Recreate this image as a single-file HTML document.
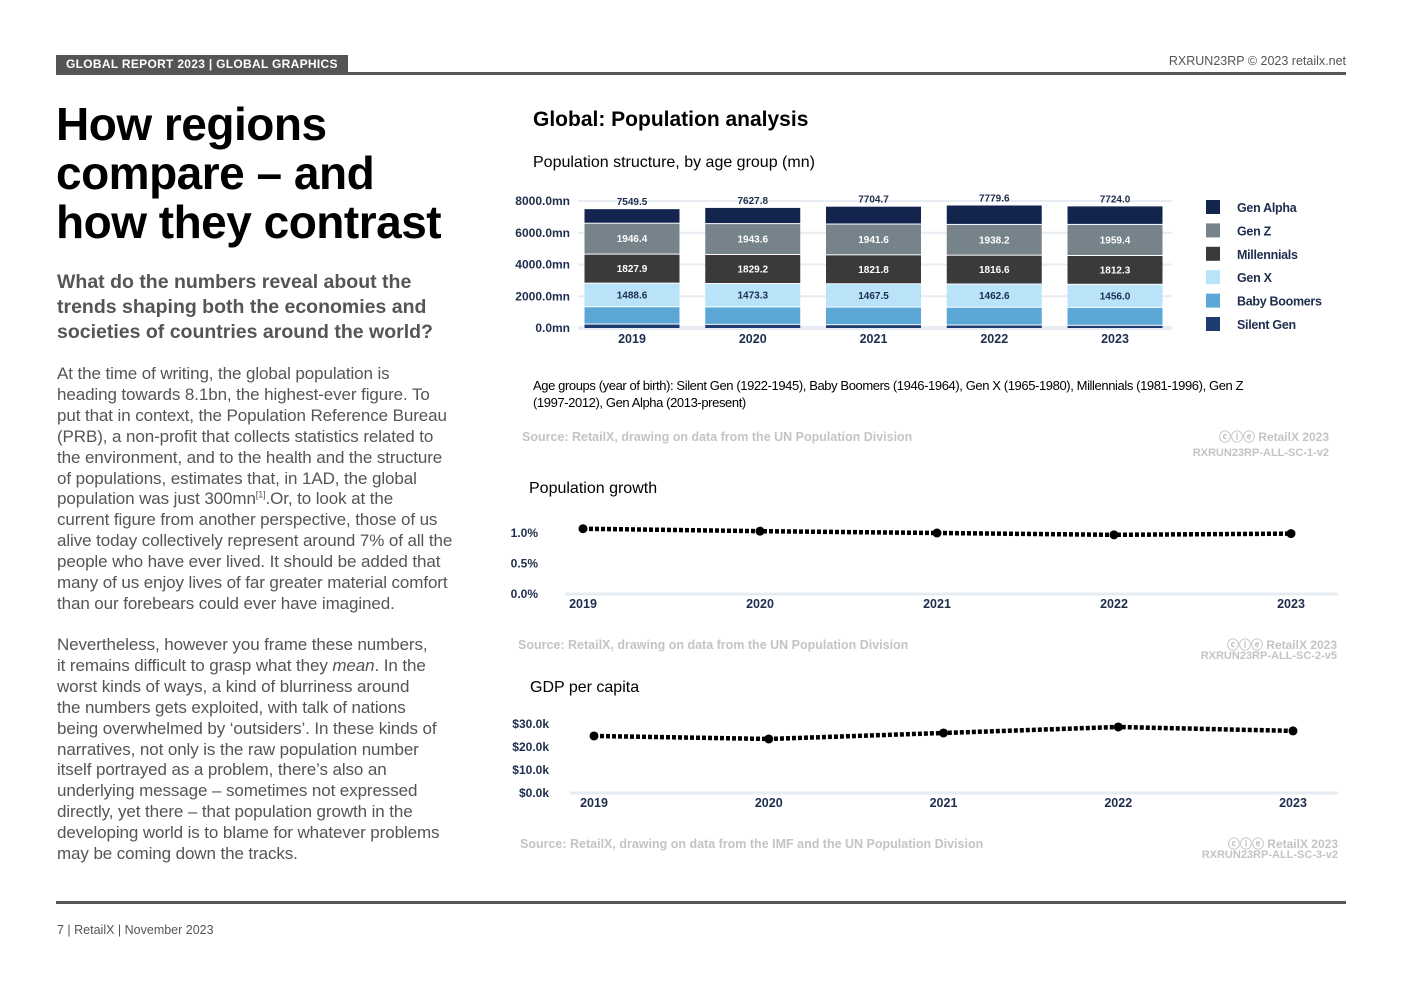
<!DOCTYPE html>
<html><head><meta charset="utf-8">
<style>
body{margin:0;width:1403px;height:992px;background:#fff;position:relative;overflow:hidden;font-family:"Liberation Sans",sans-serif;}
.abs{position:absolute;}
#hdr{left:56px;top:55px;height:18px;background:#555;color:#fff;font-weight:bold;font-size:12px;line-height:19px;padding:0 10px;letter-spacing:0.3px;}
#hline{left:56px;top:72px;width:1290px;height:3px;background:#555;}
#copy{right:57px;top:54px;font-size:12.5px;color:#555;}
h1{position:absolute;left:56px;top:100px;margin:0;font-size:46px;line-height:49px;font-weight:bold;color:#000;letter-spacing:-0.5px;}
h2{position:absolute;left:57px;top:270px;margin:0;font-size:19.5px;line-height:25px;font-weight:bold;color:#555;}
.p{position:absolute;left:57px;font-size:17px;line-height:20.9px;color:#555;letter-spacing:-0.1px;}
sup{line-height:0;font-size:9px;}
#fline{left:56px;top:901px;width:1290px;height:3px;background:#555;}
#foot{left:57px;top:923px;font-size:12.5px;color:#555;}
svg text{font-family:"Liberation Sans",sans-serif;}
</style></head><body>
<div class="abs" id="hdr">GLOBAL REPORT 2023 | GLOBAL GRAPHICS</div>
<div class="abs" id="hline"></div>
<div class="abs" id="copy">RXRUN23RP © 2023 retailx.net</div>
<h1>How regions<br>compare – and<br>how they contrast</h1>
<h2>What do the numbers reveal about the<br>trends shaping both the economies and<br>societies of countries around the world?</h2>
<div class="p" style="top:364px">At the time of writing, the global population is<br>heading towards 8.1bn, the highest-ever figure. To<br>put that in context, the Population Reference Bureau<br>(PRB), a non-profit that collects statistics related to<br>the environment, and to the health and the structure<br>of populations, estimates that, in 1AD, the global<br>population was just 300mn<sup>[1]</sup>.Or, to look at the<br>current figure from another perspective, those of us<br>alive today collectively represent around 7% of all the<br>people who have ever lived. It should be added that<br>many of us enjoy lives of far greater material comfort<br>than our forebears could ever have imagined.</div>
<div class="p" style="top:635px">Nevertheless, however you frame these numbers,<br>it remains difficult to grasp what they <i>mean</i>. In the<br>worst kinds of ways, a kind of blurriness around<br>the numbers gets exploited, with talk of nations<br>being overwhelmed by ‘outsiders’. In these kinds of<br>narratives, not only is the raw population number<br>itself portrayed as a problem, there’s also an<br>underlying message – sometimes not expressed<br>directly, yet there – that population growth in the<br>developing world is to blame for whatever problems<br>may be coming down the tracks.</div>
<div class="abs" id="fline"></div>
<div class="abs" id="foot">7 | RetailX | November 2023</div>

<svg id="charts" class="abs" style="left:0;top:0" width="1403" height="992">
<text x="533" y="126" font-size="21" font-weight="bold" fill="#000">Global: Population analysis</text>
<text x="533" y="167" font-size="16" fill="#000">Population structure, by age group (mn)</text>
<g id="bars"></g>
<text x="533" y="390" font-size="13" fill="#000" letter-spacing="-0.4">Age groups (year of birth): Silent Gen (1922-1945), Baby Boomers (1946-1964), Gen X (1965-1980), Millennials (1981-1996), Gen Z</text>
<text x="533" y="407" font-size="13" fill="#000" letter-spacing="-0.4">(1997-2012), Gen Alpha (2013-present)</text>
<text x="522" y="441" font-size="12.5" font-weight="bold" fill="#c4c4c4">Source: RetailX, drawing on data from the UN Population Division</text>
<text x="1329" y="441" font-size="12" font-weight="bold" fill="#c4c4c4" text-anchor="end">ⓒⓘⓔ  RetailX 2023</text>
<text x="1329" y="456" font-size="11" font-weight="bold" fill="#c4c4c4" text-anchor="end">RXRUN23RP-ALL-SC-1-v2</text>
<text x="529" y="493" font-size="16" fill="#000">Population growth</text>
<g id="growth"></g>
<text x="518" y="649" font-size="12.5" font-weight="bold" fill="#c4c4c4">Source: RetailX, drawing on data from the UN Population Division</text>
<text x="1337" y="649" font-size="12" font-weight="bold" fill="#c4c4c4" text-anchor="end">ⓒⓘⓔ  RetailX 2023</text>
<text x="1337" y="659" font-size="11" font-weight="bold" fill="#c4c4c4" text-anchor="end">RXRUN23RP-ALL-SC-2-v5</text>
<text x="530" y="692" font-size="16" fill="#000">GDP per capita</text>
<g id="gdp"></g>
<text x="520" y="848" font-size="12.5" font-weight="bold" fill="#c4c4c4">Source: RetailX, drawing on data from the IMF and the UN Population Division</text>
<text x="1338" y="848" font-size="12" font-weight="bold" fill="#c4c4c4" text-anchor="end">ⓒⓘⓔ  RetailX 2023</text>
<text x="1338" y="858" font-size="11" font-weight="bold" fill="#c4c4c4" text-anchor="end">RXRUN23RP-ALL-SC-3-v2</text>
</svg>

<script>
const years = ["2019","2020","2021","2022","2023"];
const silentGen = [280, 260, 240, 220, 200];
const babyBoomers = [1090, 1100, 1110, 1120, 1130];
const genX = [1488.6, 1473.3, 1467.5, 1462.6, 1456.0];
const millennials = [1827.9, 1829.2, 1821.8, 1816.6, 1812.3];
const genZ = [1946.4, 1943.6, 1941.6, 1938.2, 1959.4];
const genAlpha = [916.6, 1021.7, 1123.8, 1222.2, 1166.3];
const totals = [7549.5, 7627.8, 7704.7, 7779.6, 7724.0];
const popTicks = [0, 2000, 4000, 6000, 8000];
const growthValues = [1.07, 1.03, 1.00, 0.97, 0.99];
const growthTicks = [0, 0.5, 1.0];
const gdpValues = [24.8, 23.5, 26.1, 28.7, 27.0];
const gdpTicks = [0, 10, 20, 30];

const NS = "http://www.w3.org/2000/svg";
function mk(tag, attrs, parent, txt){const e=document.createElementNS(NS,tag);for(const k in attrs)e.setAttribute(k,attrs[k]);if(txt!=null)e.textContent=txt;parent.appendChild(e);return e;}

(function(){
  const g=document.getElementById('bars');
  const y0=328, yTop=201, vmax=8000;
  const y=v=>y0-(v/vmax)*(y0-yTop);
  const x=i=>632+i*120.75;
  const bw=95;
  popTicks.forEach(t=>{
    const ln=mk('line',{x1:578,x2:1172,y1:y(t),y2:y(t),stroke:'#e6ecf2','stroke-width':t===0?4:2},g);
    
    
    const tx=mk('text',{x:570,y:y(t)+4,'font-size':12,'font-weight':'bold',fill:'#1f2d4d','text-anchor':'end'},g,t.toFixed(1)+'mn');
    
    
  });
  const series=[
    {name:'silent-gen',vals:silentGen,col:'#1d3c70',lab:false},
    {name:'baby-boomers',vals:babyBoomers,col:'#5ba8d6',lab:false},
    {name:'gen-x',vals:genX,col:'#b8e3f9',lab:true,tc:'#1f2d4d'},
    {name:'millennials',vals:millennials,col:'#3a3a3a',lab:true,tc:'#fff'},
    {name:'gen-z',vals:genZ,col:'#76838b',lab:true,tc:'#fff'},
    {name:'gen-alpha',vals:genAlpha,col:'#13244f',lab:false}
  ];
  years.forEach((yr,i)=>{
    let acc=0;
    series.forEach(s=>{
      const v=s.vals[i];
      const top=y(acc+v), bot=y(acc);
      const r=mk('rect',{x:x(i)-bw/2,y:top+1,width:bw,height:Math.max(bot-top-1,0.5),fill:s.col},g);
      
      
      if(s.lab){
        const t=mk('text',{x:x(i),y:(top+bot)/2+4,'font-size':10,'font-weight':'bold',fill:s.tc,'text-anchor':'middle'},g,v.toFixed(1));
        
        
      }
      acc+=v;
    });
    const tt=mk('text',{x:x(i),y:y(acc)-3,'font-size':10,'font-weight':'bold',fill:'#1f2d4d','text-anchor':'middle'},g,totals[i].toFixed(1));
    
    
    const xl=mk('text',{x:x(i),y:343,'font-size':12.5,'font-weight':'bold',fill:'#1f2d4d','text-anchor':'middle'},g,yr);
    
    
  });
  const legend=[['Gen Alpha','#13244f'],['Gen Z','#76838b'],['Millennials','#3a3a3a'],['Gen X','#b8e3f9'],['Baby Boomers','#5ba8d6'],['Silent Gen','#1d3c70']];
  legend.forEach((l,k)=>{
    const yy=200+k*23.4;
    const r=mk('rect',{x:1206,y:yy,width:14,height:14,fill:l[1]},g);
    
    
    const t=mk('text',{x:1237,y:yy+12,'font-size':12.5,'font-weight':'bold',fill:'#1f2d4d','letter-spacing':'-0.3'},g,l[0]);
    
    
  });
})();

function lineChart(id,vals,ticks,y0,yTopVal,yTop,xs,xStep,fmt,labelX,axisX1){
  const g=document.getElementById(id);
  const y=v=>y0-(v/yTopVal)*(y0-yTop);
  const x=i=>xs+i*xStep;
  const ax=mk('line',{x1:axisX1,x2:1338,y1:y0,y2:y0,stroke:'#e6ecf2','stroke-width':3},g);
  
  
  ticks.forEach(t=>{
    const tx=mk('text',{x:labelX,y:y(t)+4,'font-size':12,'font-weight':'bold',fill:'#1f2d4d','text-anchor':'end'},g,fmt(t));
    
    
  });
  const pts=vals.map((v,i)=>x(i)+','+y(v)).join(' ');
  const pl=mk('polyline',{points:pts,fill:'none',stroke:'#000','stroke-width':4.5,'stroke-dasharray':'4 2'},g);
  
  
  vals.forEach((v,i)=>{
    const c=mk('circle',{cx:x(i),cy:y(v),r:4.5,fill:'#000'},g);
    
    
    const xl=mk('text',{x:x(i),y:y0+14,'font-size':12.5,'font-weight':'bold',fill:'#1f2d4d','text-anchor':'middle'},g,years[i]);
    
    
  });
}
lineChart('growth',growthValues,growthTicks,594,1.0,533,583,177,t=>t.toFixed(1)+'%',538,565);
lineChart('gdp',gdpValues,gdpTicks,793,30,724,594,174.75,t=>'$'+t.toFixed(1)+'k',549,570);
</script>
</body></html>
